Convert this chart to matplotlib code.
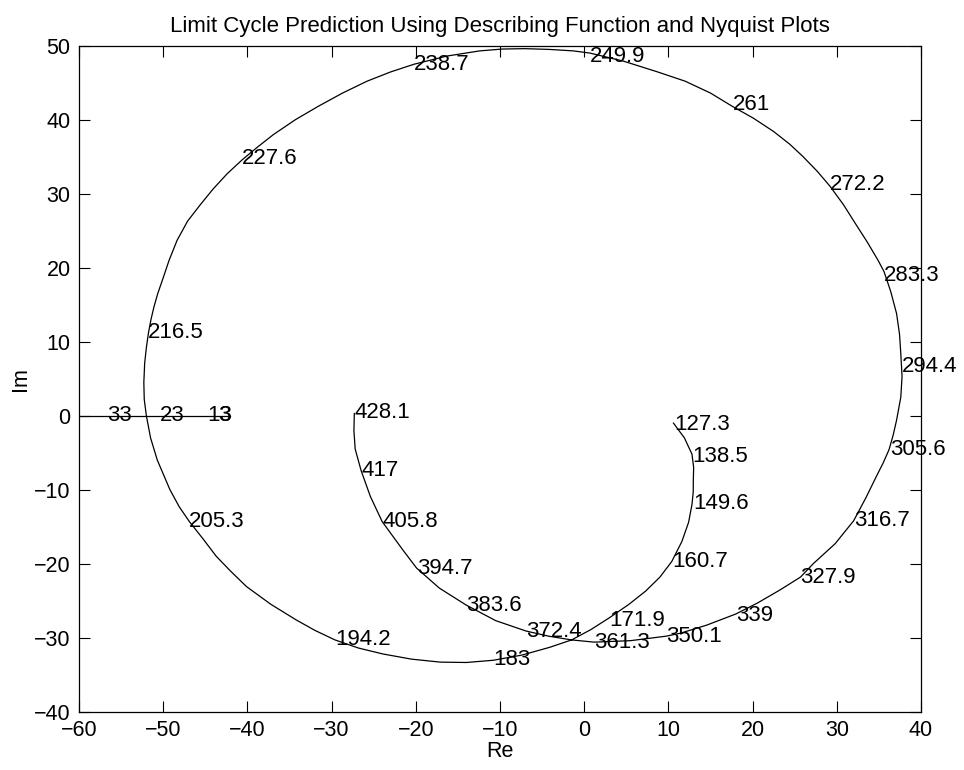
import matplotlib
matplotlib.use("Agg")
import matplotlib.pyplot as plt

plt.rcParams["font.family"] = ["Liberation Sans", "DejaVu Sans"]

# nyquist curve (ordered by frequency, 127.3 -> 428.1)
nyq_re = [10.6, 11.9, 12.8, 13.0, 12.96, 12.95, 12.8, 12.4, 11.6, 10.4, 9.0, 7.3, 5.3, 3.0,
          0.8, -1.5, -4.1, -7.4, -10.8, -14.0, -17.1, -20.5, -23.9, -26.8, -29.6, -32.0,
          -34.2, -37.2, -40.1, -42.0, -43.7, -45.3, -46.9, -48.1, -49.2, -50.7, -51.5,
          -52.0, -52.25, -52.3, -52.2, -52.0, -51.75, -51.45, -51.1, -50.65, -50.1,
          -49.3, -48.35, -47.1, -45.6, -44.1, -42.4, -40.6, -38.8, -36.9, -34.3,
          -31.6, -28.7, -25.8, -23.0, -20.2, -16.3, -12.4, -9.7, -7.0, -4.2, -1.3, 0.7,
          4.7, 8.6, 12.0, 15.0, 17.6, 20.1, 22.5, 24.4, 26.0, 27.7, 29.2, 30.8, 32.3, 33.6,
          34.9, 35.6, 36.4, 37.1, 37.45, 37.6, 37.75, 37.6, 37.1, 36.7, 36.2, 35.5, 34.7,
          33.45, 32.0, 29.8, 27.2, 25.7, 23.25, 20.6, 18.0, 14.55, 11.4, 9.7, 5.5, 1.2,
          -1.5, -4.2, -6.9, -10.5, -14.0, -17.2, -19.9, -21.5, -24.0, -25.4, -26.5, -27.2,
          -27.35, -27.3]
nyq_im = [-1.0, -3.0, -5.2, -7.0, -8.7, -10.3, -12.0, -14.4, -17.0, -19.7, -21.8, -23.7,
          -25.5, -27.3, -28.9, -30.3, -31.3, -32.35, -33.05, -33.35, -33.3, -32.9, -32.2,
          -31.4, -30.3, -29.0, -27.6, -25.5, -23.1, -21.0, -19.0, -16.6, -14.3, -12.3,
          -10.0, -6.0, -3.0, 0.0, 2.2, 4.5, 7.1, 9.2, 11.2, 13.0, 14.7, 16.5, 18.3,
          21.0, 23.7, 26.3, 28.5, 30.6, 32.7, 34.6, 36.3, 38.0, 40.0, 41.8, 43.6,
          45.2, 46.45, 47.5, 48.6, 49.3, 49.55, 49.6, 49.5, 49.3, 49.0, 47.9, 46.5, 45.2,
          43.6, 41.8, 40.2, 38.4, 36.7, 35.0, 33.0, 31.0, 28.5, 25.8, 23.5, 21.0, 19.5,
          16.8, 13.8, 11.0, 8.4, 5.3, 2.5, -0.6, -2.6, -4.6, -6.4, -8.2, -11.1, -14.2,
          -17.3, -20.0, -21.8, -23.55, -25.3, -26.8, -28.3, -29.4, -29.8, -30.4, -30.6,
          -30.3, -29.8, -29.1, -27.7, -25.6, -23.3, -20.6, -18.2, -14.3, -10.9, -7.4, -4.5,
          -2.0, 0.3]

# frequency labels and where they sit on the curve
freq_lbl = ["127.3", "138.5", "149.6", "160.7", "171.9", "183", "194.2", "205.3", "216.5",
            "227.6", "238.7", "249.9", "261", "272.2", "283.3", "294.4", "305.6", "316.7",
            "327.9", "339", "350.1", "361.3", "372.4", "383.6", "394.7", "405.8", "417",
            "428.1"]
freq_re = [10.7, 12.8, 12.9, 10.4, 3.0, -10.8, -29.6, -46.9, -51.8, -40.6, -20.2, 0.7,
           17.6, 29.2, 35.6, 37.7, 36.3, 32.0, 25.7, 18.0, 9.7, 1.2, -6.9, -14.0, -19.9,
           -24.0, -26.5, -27.3]
freq_im = [-1.2, -5.5, -11.9, -19.7, -27.7, -33.0, -30.3, -14.3, 11.2, 34.7, 47.5, 48.6,
           42.0, 31.2, 19.0, 6.7, -4.6, -14.2, -21.8, -27.0, -29.9, -30.7, -29.1, -25.6,
           -20.6, -14.3, -7.4, 0.4]

# describing function -1/N(A) on the negative real axis
df_re = [-42.1, -43.5, -44.8, -50.4, -56.7, -63.0]
df_im = [0, 0, 0, 0, 0, 0]
amp_lbl = ["3", "13", "23", "33"]
amp_re = [-43.5, -44.8, -50.4, -56.7]

fig = plt.figure(figsize=(9.64, 7.70), dpi=100)
ax = fig.add_axes((79 / 964, 1 - 711.7 / 770, 842 / 964, 666 / 770))

ax.plot(nyq_re, nyq_im, color="black", lw=0.9)
ax.plot(df_re, df_im, color="black", lw=0.9)

for lbl, x, y in zip(freq_lbl, freq_re, freq_im):
    ax.text(x, y, lbl, ha="left", va="center", fontsize=16)
for lbl, x in zip(amp_lbl, amp_re):
    ax.text(x, 0, lbl, ha="left", va="center", fontsize=16)

ax.set_xlim(-60, 40)
ax.set_ylim(-40, 50)
ax.set_xticks(range(-60, 41, 10))
ax.set_yticks(range(-40, 51, 10))
ax.tick_params(direction="in", length=8, width=0.8, labelsize=15.5, pad=6,
               top=True, right=True)
for sp in ax.spines.values():
    sp.set_linewidth(0.9)

ax.set_xlabel("Re", fontsize=15.5, labelpad=0)
ax.set_ylabel("Im", fontsize=15.5, labelpad=2)
ax.set_title("Limit Cycle Prediction Using Describing Function and Nyquist Plots",
             fontsize=16, pad=10)

fig.savefig("out.png", dpi=100)
